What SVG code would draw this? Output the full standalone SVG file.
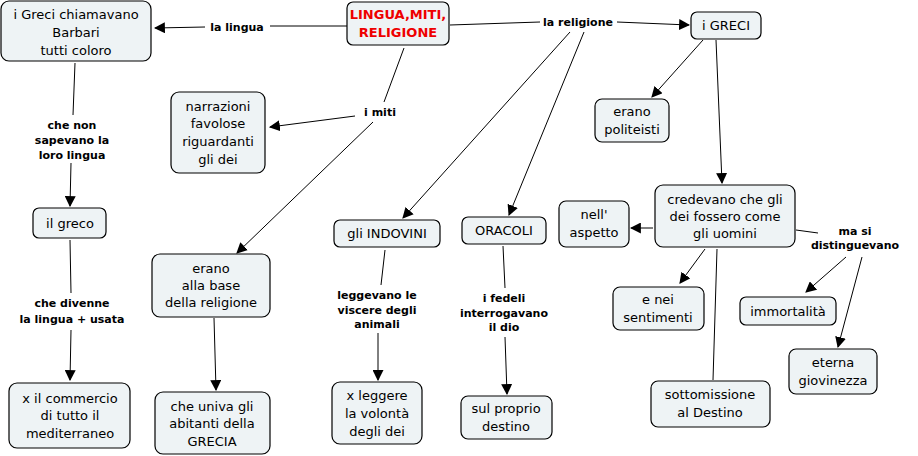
<svg xmlns="http://www.w3.org/2000/svg" width="918" height="456" viewBox="0 0 918 456">
<style>
.n rect{fill:#eef3f5;stroke:#000;stroke-width:1.2}
.n text{font-family:"DejaVu Sans",Verdana,sans-serif;font-size:13px;text-anchor:middle;fill:#000}
.l{font-family:"DejaVu Sans",Verdana,sans-serif;font-size:11px;font-weight:bold;text-anchor:middle;fill:#000}
#c line{stroke:#000;stroke-width:1}
.a{marker-end:url(#ar)}
</style>
<defs><marker id="ar" viewBox="0 0 10 10" refX="9" refY="5" markerWidth="11" markerHeight="11" markerUnits="userSpaceOnUse" orient="auto"><path d="M0,0L10,5L0,10z" fill="#000"/></marker></defs>
<rect width="918" height="456" fill="#fff"/>
<g id="c">
<line x1="347" y1="26" x2="270" y2="26"/><line class="a" x1="205" y1="27" x2="155" y2="28"/>
<line x1="450" y1="25" x2="540" y2="22"/><line class="a" x1="617" y1="22" x2="689" y2="25"/>
<line x1="404" y1="48" x2="384" y2="102"/><line class="a" x1="355" y1="116" x2="270" y2="127"/><line class="a" x1="373" y1="122" x2="237" y2="253"/>
<line class="a" x1="570" y1="32" x2="403" y2="218"/><line class="a" x1="584" y1="32" x2="509" y2="215"/>
<line class="a" x1="703" y1="40" x2="652" y2="97"/><line class="a" x1="716" y1="40" x2="722" y2="183"/>
<line x1="75" y1="63" x2="73" y2="115"/><line class="a" x1="71" y1="163" x2="70" y2="206"/>
<line x1="70" y1="240" x2="71" y2="293"/><line class="a" x1="71" y1="330" x2="70" y2="380"/>
<line class="a" x1="214" y1="318" x2="216" y2="390"/>
<line x1="385" y1="250" x2="381" y2="285"/><line class="a" x1="378" y1="333" x2="378" y2="380"/>
<line x1="503" y1="246" x2="505" y2="288"/><line class="a" x1="505" y1="337" x2="507" y2="394"/>
<line class="a" x1="653" y1="228" x2="631" y2="228"/>
<line class="a" x1="705" y1="249" x2="680" y2="283"/>
<line x1="717" y1="249" x2="713" y2="380"/>
<line x1="796" y1="230" x2="818" y2="233"/>
<line class="a" x1="846" y1="257" x2="806" y2="292"/><line class="a" x1="862" y1="257" x2="838" y2="347"/>
</g>
<g id="labels">
<text class="l" x="237" y="31">la lingua</text>
<text class="l" x="578" y="26">la religione</text>
<text class="l" x="380" y="116">i miti</text>
<text class="l" x="72" y="129">che non</text><text class="l" x="72" y="144">sapevano la</text><text class="l" x="72" y="159">loro lingua</text>
<text class="l" x="72" y="307">che divenne</text><text class="l" x="72" y="323">la lingua + usata</text>
<text class="l" x="377" y="299">leggevano le</text><text class="l" x="377" y="314">viscere degli</text><text class="l" x="377" y="328">animali</text>
<text class="l" x="504" y="302">i fedeli</text><text class="l" x="504" y="317">interrogavano</text><text class="l" x="504" y="331">il dio</text>
<text class="l" x="855" y="235">ma si</text><text class="l" x="855" y="249">distinguevano</text>
</g>
<g id="title" class="n"><rect x="347" y="2" width="102" height="43" rx="6"/><text x="398" y="19" style="fill:#e00;font-weight:bold">LINGUA,MITI,</text><text x="398" y="37" style="fill:#e00;font-weight:bold">RELIGIONE</text></g>
<g id="barbari" class="n"><rect x="1" y="1" width="150" height="60" rx="8"/><text x="76" y="19">i Greci chiamavano</text><text x="76" y="37">Barbari</text><text x="76" y="55">tutti coloro</text></g>
<g id="narrazioni" class="n"><rect x="171" y="92" width="94" height="81" rx="8"/><text x="218" y="111">narrazioni</text><text x="218" y="128">favolose</text><text x="218" y="146">riguardanti</text><text x="218" y="164">gli dei</text></g>
<g id="greco" class="n"><rect x="33" y="208" width="73" height="30" rx="6"/><text x="70" y="228">il greco</text></g>
<g id="commercio" class="n"><rect x="9" y="383" width="121" height="65" rx="8"/><text x="70" y="403">x il commercio</text><text x="70" y="420">di tutto il</text><text x="70" y="438">mediterraneo</text></g>
<g id="base" class="n"><rect x="152" y="254" width="118" height="63" rx="8"/><text x="211" y="273">erano</text><text x="211" y="290">alla base</text><text x="211" y="307">della religione</text></g>
<g id="univa" class="n"><rect x="155" y="392" width="115" height="62" rx="8"/><text x="212" y="411">che univa gli</text><text x="212" y="428">abitanti della</text><text x="212" y="446">GRECIA</text></g>
<g id="indovini" class="n"><rect x="334" y="220" width="106" height="27" rx="6"/><text x="387" y="238">gli INDOVINI</text></g>
<g id="leggere" class="n"><rect x="332" y="382" width="90" height="62" rx="8"/><text x="377" y="400">x leggere</text><text x="377" y="418">la volontà</text><text x="377" y="436">degli dei</text></g>
<g id="oracoli" class="n"><rect x="462" y="217" width="84" height="27" rx="6"/><text x="504" y="235">ORACOLI</text></g>
<g id="destino" class="n"><rect x="461" y="396" width="91" height="43" rx="7"/><text x="506" y="413">sul proprio</text><text x="506" y="431">destino</text></g>
<g id="greci" class="n"><rect x="691" y="12" width="70" height="27" rx="6"/><text x="726" y="30">i GRECI</text></g>
<g id="politeisti" class="n"><rect x="595" y="99" width="74" height="43" rx="7"/><text x="632" y="116">erano</text><text x="632" y="134">politeisti</text></g>
<g id="credevano" class="n"><rect x="655" y="185" width="140" height="62" rx="8"/><text x="725" y="204">credevano che gli</text><text x="725" y="221">dei fossero come</text><text x="725" y="238">gli uomini</text></g>
<g id="aspetto" class="n"><rect x="559" y="201" width="70" height="46" rx="7"/><text x="594" y="219">nell'</text><text x="594" y="237">aspetto</text></g>
<g id="sentimenti" class="n"><rect x="613" y="287" width="91" height="43" rx="7"/><text x="658" y="304">e nei</text><text x="658" y="322">sentimenti</text></g>
<g id="immortalita" class="n"><rect x="740" y="297" width="96" height="28" rx="6"/><text x="788" y="316">immortalità</text></g>
<g id="giovinezza" class="n"><rect x="789" y="349" width="88" height="45" rx="7"/><text x="833" y="367">eterna</text><text x="833" y="385">giovinezza</text></g>
<g id="destino2" class="n"><rect x="651" y="381" width="119" height="46" rx="7"/><text x="710" y="399">sottomissione</text><text x="710" y="417">al Destino</text></g>
</svg>
